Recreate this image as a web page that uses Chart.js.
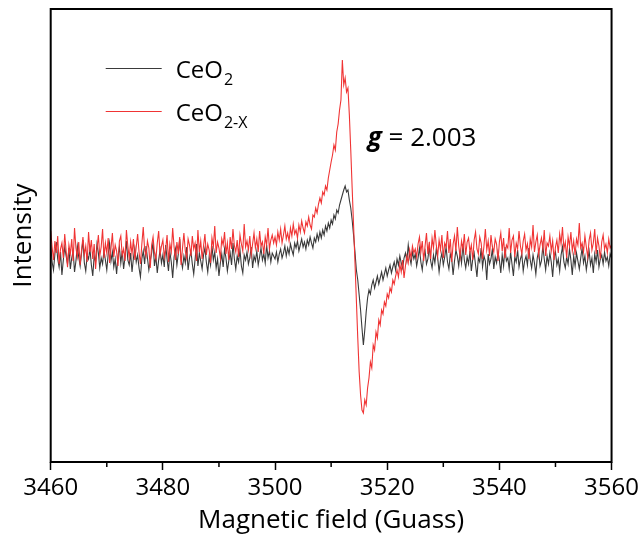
<!DOCTYPE html>
<html><head><meta charset="utf-8">
<script src="https://cdn.jsdelivr.net/npm/chart.js@4/dist/chart.umd.min.js"></script>
<style>html,body{margin:0;padding:0;background:#fff;}canvas{display:block;}</style>
</head><body>
<canvas id="c" width="643" height="536"></canvas>
<script>
const field = [
3460,3460.25,3460.5,3460.75,3461,3461.25,3461.5,3461.75,3462,3462.25,3462.5,3462.75,3463,3463.25,3463.5,3463.75,3464,3464.25,3464.5,3464.75,
3465,3465.25,3465.5,3465.75,3466,3466.25,3466.5,3466.75,3467,3467.25,3467.5,3467.75,3468,3468.25,3468.5,3468.75,3469,3469.25,3469.5,3469.75,
3470,3470.25,3470.5,3470.75,3471,3471.25,3471.5,3471.75,3472,3472.25,3472.5,3472.75,3473,3473.25,3473.5,3473.75,3474,3474.25,3474.5,3474.75,
3475,3475.25,3475.5,3475.75,3476,3476.25,3476.5,3476.75,3477,3477.25,3477.5,3477.75,3478,3478.25,3478.5,3478.75,3479,3479.25,3479.5,3479.75,
3480,3480.25,3480.5,3480.75,3481,3481.25,3481.5,3481.75,3482,3482.25,3482.5,3482.75,3483,3483.25,3483.5,3483.75,3484,3484.25,3484.5,3484.75,
3485,3485.25,3485.5,3485.75,3486,3486.25,3486.5,3486.75,3487,3487.25,3487.5,3487.75,3488,3488.25,3488.5,3488.75,3489,3489.25,3489.5,3489.75,
3490,3490.25,3490.5,3490.75,3491,3491.25,3491.5,3491.75,3492,3492.25,3492.5,3492.75,3493,3493.25,3493.5,3493.75,3494,3494.25,3494.5,3494.75,
3495,3495.25,3495.5,3495.75,3496,3496.25,3496.5,3496.75,3497,3497.25,3497.5,3497.75,3498,3498.25,3498.5,3498.75,3499,3499.25,3499.5,3499.75,
3500,3500.25,3500.5,3500.75,3501,3501.25,3501.5,3501.75,3502,3502.25,3502.5,3502.75,3503,3503.25,3503.5,3503.75,3504,3504.25,3504.5,3504.75,
3505,3505.25,3505.5,3505.75,3506,3506.25,3506.5,3506.75,3507,3507.25,3507.5,3507.75,3508,3508.25,3508.5,3508.75,3509,3509.25,3509.5,3509.75,
3510,3510.25,3510.5,3510.75,3511,3511.25,3511.5,3511.75,3512,3512.25,3512.5,3512.75,3513,3513.25,3513.5,3513.75,3514,3514.25,3514.5,3514.75,
3515,3515.25,3515.5,3515.75,3516,3516.25,3516.5,3516.75,3517,3517.25,3517.5,3517.75,3518,3518.25,3518.5,3518.75,3519,3519.25,3519.5,3519.75,
3520,3520.25,3520.5,3520.75,3521,3521.25,3521.5,3521.75,3522,3522.25,3522.5,3522.75,3523,3523.25,3523.5,3523.75,3524,3524.25,3524.5,3524.75,
3525,3525.25,3525.5,3525.75,3526,3526.25,3526.5,3526.75,3527,3527.25,3527.5,3527.75,3528,3528.25,3528.5,3528.75,3529,3529.25,3529.5,3529.75,
3530,3530.25,3530.5,3530.75,3531,3531.25,3531.5,3531.75,3532,3532.25,3532.5,3532.75,3533,3533.25,3533.5,3533.75,3534,3534.25,3534.5,3534.75,
3535,3535.25,3535.5,3535.75,3536,3536.25,3536.5,3536.75,3537,3537.25,3537.5,3537.75,3538,3538.25,3538.5,3538.75,3539,3539.25,3539.5,3539.75,
3540,3540.25,3540.5,3540.75,3541,3541.25,3541.5,3541.75,3542,3542.25,3542.5,3542.75,3543,3543.25,3543.5,3543.75,3544,3544.25,3544.5,3544.75,
3545,3545.25,3545.5,3545.75,3546,3546.25,3546.5,3546.75,3547,3547.25,3547.5,3547.75,3548,3548.25,3548.5,3548.75,3549,3549.25,3549.5,3549.75,
3550,3550.25,3550.5,3550.75,3551,3551.25,3551.5,3551.75,3552,3552.25,3552.5,3552.75,3553,3553.25,3553.5,3553.75,3554,3554.25,3554.5,3554.75,
3555,3555.25,3555.5,3555.75,3556,3556.25,3556.5,3556.75,3557,3557.25,3557.5,3557.75,3558,3558.25,3558.5,3558.75,3559,3559.25,3559.5,3559.75,
3560];

const ceo2 = [
5,-12,-20,-4,8,-9,-17,-2,-25,-10,3,-6,-14,2,-19,-8,-1,-22,-11,4,
-7,-16,-3,10,-13,-21,-5,-9,1,-15,-26,-6,-12,6,-3,-18,-8,-14,0,-10,
-20,-4,7,-11,-2,-17,-9,-24,-6,3,-13,-1,-19,-7,9,-10,-15,-3,-22,-8,
2,-12,-5,-18,-27,-9,-1,-14,4,-8,-20,-11,-3,8,-16,-6,-23,-10,0,-13,
-5,-17,5,-9,-21,-2,-12,-28,-7,1,-15,-4,11,-10,-18,-6,-13,3,-20,-8,
-1,-14,-24,-9,6,-16,-3,-11,-19,-5,2,-12,-22,-7,-15,4,-10,-2,-18,-9,
-26,-13,-4,-17,1,-8,-21,-11,-3,-15,7,-9,-19,-6,-12,0,-16,-23,-5,-10,
-2,-14,-8,3,-18,-6,-11,-1,-15,-7,2,-10,-4,-13,5,-8,-1,-12,-3,-6,
-9,-2,-12,-4,1,-8,-3,4,-6,2,-4,6,0,-5,7,2,9,-1,5,11,
3,8,1,10,5,13,7,2,12,8,16,10,18,12,20,15,24,19,27,22,
30,26,35,31,40,37,45,50,55,60,64,58,60,50,42,30,15,-2,-20,-30,
-45,-60,-78,-95,-80,-62,-48,-40,-44,-35,-30,-38,-32,-26,-34,-28,-22,-30,-24,-18,
-26,-20,-15,-23,-17,-12,-20,-9,-15,-6,-13,-18,-8,-3,-11,5,-7,-14,-2,-9,
-4,-16,-8,2,-12,-20,-6,-1,-14,-9,4,-11,-18,-5,-13,1,-8,-22,-10,-3,
-15,-7,3,-12,-19,-4,-9,-25,-11,0,-6,-16,-2,-13,6,-10,-18,-7,-14,-1,
-21,-9,-3,-15,-27,-8,-12,2,-17,-6,-11,-30,-4,-14,-9,1,-19,-7,-13,-2,
-10,-23,-5,-16,3,-11,-8,-19,-2,-14,-26,-7,-12,0,-17,-9,-4,-21,-11,-6,
-15,2,-10,-18,-5,-13,-24,-8,-1,-16,-11,4,-9,-20,-6,-14,-3,-12,-27,-7,
-2,-15,-9,-21,-5,3,-12,-18,-7,-14,1,-10,-25,-6,-16,-3,-11,-19,-8,2,
-13,-6,-20,-10,-1,-15,-8,-23,-4,-12,0,-17,-9,-5,-14,-2,-11,-7,-16,-4,
-8];

const ceo2x = [
19,3,-10,9,-3,14,-14,1,7,-8,16,-1,-17,5,-4,11,-11,22,2,-7,
8,-15,0,13,-5,4,-12,18,-2,10,-9,6,-19,1,15,-6,3,21,-8,7,
-3,12,-13,2,17,-7,5,-1,-16,9,14,-5,1,-11,20,4,-8,8,-4,11,
-10,3,16,-2,-14,6,23,0,-6,9,2,-18,5,13,-3,-9,7,19,-5,4,
10,-7,1,15,-12,6,-2,22,3,-10,8,-4,13,-15,2,17,-1,-8,11,5,
-6,14,1,7,-11,20,-2,9,-9,4,16,-5,6,0,-13,12,3,24,-3,8,
2,-8,11,5,18,-4,7,-10,13,1,21,4,-2,10,-7,15,6,-1,26,3,
9,0,14,-5,6,17,2,11,-2,19,4,8,-4,13,5,22,1,10,15,7,
13,5,18,10,21,7,15,24,11,17,9,22,14,26,16,20,12,25,18,29,
22,17,28,24,33,25,21,35,33,42,37,46,52,47,58,55,64,60,72,80,
88,95,105,100,118,126,140,150,190,165,172,158,162,135,100,62,25,-12,-50,-88,
-122,-145,-160,-163,-150,-155,-138,-128,-112,-118,-95,-100,-82,-88,-70,-75,-60,-64,-52,-56,
-44,-48,-38,-42,-30,-34,-26,-20,-27,-14,-22,-10,-28,-16,-6,-13,0,-8,4,-3,
1,-7,6,13,-2,9,-11,4,17,-4,8,-9,12,2,20,5,-6,10,0,15,
-8,7,3,19,-3,11,-12,6,14,-1,23,4,-7,9,1,16,-5,8,12,-2,
5,-10,10,18,1,-4,13,7,-9,4,21,0,9,-6,15,3,-2,11,6,-11,
8,17,-1,12,-8,5,2,22,-3,10,14,-7,7,1,19,4,-4,9,16,0,
6,-9,11,3,25,-2,8,15,-5,5,12,1,20,-6,7,4,14,-1,9,-10,
3,10,-3,16,6,23,1,8,-8,13,4,18,-1,9,-5,11,5,27,2,7,
-2,14,3,-7,10,17,0,7,21,-4,12,4,-9,8,15,1,6,-3,11,2,
5];

const seriesNames = ['CeO', 'CeO'];
const seriesSubs = ['2', '2-X'];
const seriesColors = ['#3a3a3a', '#f03434'];
const xMajorTicks = [3460, 3480, 3500, 3520, 3540, 3560];
const xMinorTicks = [3470, 3490, 3510, 3530, 3550];
const annotationSymbol = 'g';
const annotationText = ' = 2.003';

const FONT = "'Open Sans', 'Noto Sans', sans-serif";

const decorPlugin = {
  id: 'decor',
  afterDatasetsDraw(chart) {
    const ctx = chart.ctx;
    const a = chart.chartArea;
    const xs = chart.scales.x;
    ctx.save();
    ctx.strokeStyle = '#000';
    ctx.lineWidth = 2;
    ctx.strokeRect(a.left, a.top, a.right - a.left, a.bottom - a.top);
    ctx.lineWidth = 1.5;
    xMinorTicks.forEach(v => {
      const px = xs.getPixelForValue(v);
      ctx.beginPath();
      ctx.moveTo(px, a.bottom);
      ctx.lineTo(px, a.bottom + 5);
      ctx.stroke();
    });
    const lx0 = a.left + 55, lx1 = a.left + 111, tx = a.left + 125;
    const rows = [a.top + 59, a.top + 102];
    [0, 1].forEach((k, r) => {
      const y = rows[r];
      ctx.strokeStyle = seriesColors[k];
      ctx.lineWidth = 1;
      ctx.beginPath();
      ctx.moveTo(lx0, y + 0.5);
      ctx.lineTo(lx1, y + 0.5);
      ctx.stroke();
      ctx.fillStyle = '#000';
      ctx.textBaseline = 'alphabetic';
      ctx.textAlign = 'left';
      ctx.font = '24px ' + FONT;
      ctx.fillText(seriesNames[k], tx, y + 10);
      const w = ctx.measureText(seriesNames[k]).width;
      ctx.font = '16px ' + FONT;
      ctx.fillText(seriesSubs[k], tx + w + 1, y + 17);
    });
    const gx = a.left + 317, gy = a.top + 137;
    ctx.fillStyle = '#000';
    ctx.font = 'italic bold 26px ' + FONT;
    ctx.fillText(annotationSymbol, gx, gy);
    const gw = ctx.measureText(annotationSymbol).width;
    ctx.font = '26px ' + FONT;
    ctx.fillText(annotationText, gx + gw, gy);
    ctx.restore();
  }
};

new Chart(document.getElementById('c'), {
  type: 'line',
  data: {
    datasets: [
      { label: 'CeO2-X', data: field.map((f, i) => ({ x: f, y: ceo2x[i] })),
        borderColor: seriesColors[1], borderWidth: 1.1, pointRadius: 0, tension: 0, order: 0 },
      { label: 'CeO2', data: field.map((f, i) => ({ x: f, y: ceo2[i] })),
        borderColor: seriesColors[0], borderWidth: 1.1, pointRadius: 0, tension: 0, order: 1 }
    ]
  },
  options: {
    responsive: false, animation: false, devicePixelRatio: 1,
    layout: { padding: { left: 0, top: 9, right: 31, bottom: 0 } },
    plugins: { legend: { display: false }, tooltip: { enabled: false } },
    scales: {
      x: {
        type: 'linear', min: 3460, max: 3560,
        afterBuildTicks: s => { s.ticks = xMajorTicks.map(v => ({ value: v })); },
        afterFit: s => { s.height = 74; },
        ticks: { font: { family: FONT, size: 24 }, color: '#000', padding: 4, maxRotation: 0, autoSkip: false,
                 callback: v => String(v) },
        grid: { drawOnChartArea: false, tickLength: 8, tickColor: '#000', tickWidth: 1.5 },
        border: { display: false },
        title: { display: true, text: 'Magnetic field (Guass)', color: '#000',
                 font: { family: FONT, size: 26 }, padding: { top: 0, bottom: 0 } }
      },
      y: {
        min: -212, max: 241,
        afterFit: s => { s.width = 50.7; },
        ticks: { display: false },
        grid: { display: false },
        border: { display: false },
        title: { display: true, text: 'Intensity', color: '#000',
                 font: { family: FONT, size: 26 }, padding: { top: 8, bottom: 0 } }
      }
    }
  },
  plugins: [decorPlugin]
});
</script>
</body></html>
